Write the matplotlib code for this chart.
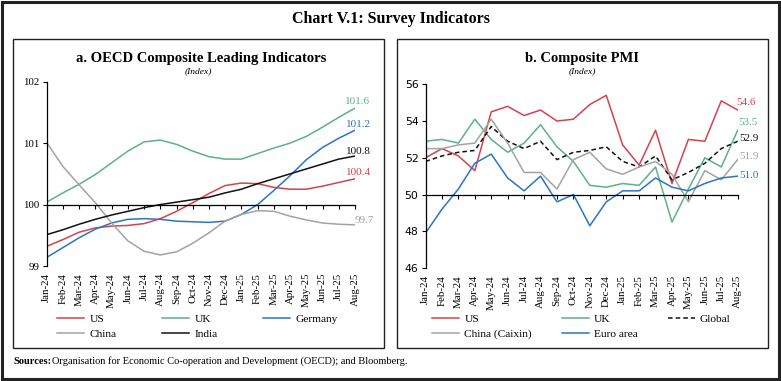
import numpy as np
import matplotlib
matplotlib.use("Agg")
import matplotlib.pyplot as plt
from matplotlib.patches import Rectangle

plt.rcParams['font.family'] = ['Liberation Serif', 'DejaVu Serif']

months = ['Jan-24', 'Feb-24', 'Mar-24', 'Apr-24', 'May-24', 'Jun-24', 'Jul-24', 'Aug-24',
          'Sep-24', 'Oct-24', 'Nov-24', 'Dec-24', 'Jan-25', 'Feb-25', 'Mar-25', 'Apr-25',
          'May-25', 'Jun-25', 'Jul-25', 'Aug-25']

# panel a: OECD CLI (index)
cli_us = [99.32, 99.43, 99.55, 99.62, 99.65, 99.66, 99.69, 99.77, 99.89, 100.03,
          100.18, 100.31, 100.35, 100.34, 100.28, 100.25, 100.25, 100.30, 100.36, 100.42]
cli_uk = [100.04, 100.19, 100.33, 100.49, 100.68, 100.87, 101.02, 101.05, 100.98, 100.87,
          100.78, 100.74, 100.74, 100.83, 100.92, 101.00, 101.11, 101.26, 101.42, 101.57]
cli_germany = [99.14, 99.30, 99.46, 99.60, 99.70, 99.76, 99.77, 99.76, 99.73, 99.72,
               99.71, 99.73, 99.84, 100.00, 100.23, 100.47, 100.73, 100.93, 101.08, 101.21]
cli_china = [101.01, 100.62, 100.32, 100.03, 99.70, 99.41, 99.24, 99.18, 99.23, 99.37,
             99.54, 99.73, 99.84, 99.90, 99.89, 99.81, 99.75, 99.70, 99.68, 99.67]
cli_india = [99.51, 99.59, 99.68, 99.76, 99.83, 99.89, 99.95, 100.00, 100.04, 100.08,
             100.12, 100.19, 100.25, 100.34, 100.42, 100.50, 100.58, 100.66, 100.74, 100.79]

# panel b: composite PMI
pmi_us = [52.0, 52.5, 52.1, 51.3, 54.5, 54.8, 54.3, 54.6, 54.0, 54.1,
          54.9, 55.4, 52.7, 51.6, 53.5, 50.6, 53.0, 52.9, 55.1, 54.6]
pmi_uk = [52.9, 53.0, 52.8, 54.1, 53.0, 52.3, 52.8, 53.8, 52.6, 51.8,
          50.5, 50.4, 50.6, 50.5, 51.5, 48.5, 50.3, 52.0, 51.5, 53.5]
pmi_global = [51.8, 52.1, 52.3, 52.4, 53.7, 52.9, 52.5, 52.9, 51.9, 52.3,
              52.4, 52.6, 51.8, 51.5, 52.1, 50.8, 51.2, 51.7, 52.5, 52.9]
pmi_china = [52.5, 52.5, 52.7, 52.8, 54.1, 52.8, 51.2, 51.2, 50.3, 51.9,
             52.3, 51.4, 51.1, 51.5, 51.8, 51.1, 49.6, 51.3, 50.8, 51.9]
pmi_euro = [47.9, 49.2, 50.3, 51.7, 52.2, 50.9, 50.2, 51.0, 49.6, 50.0,
            48.3, 49.6, 50.2, 50.2, 50.9, 50.4, 50.2, 50.6, 50.9, 51.0]

RED = '#d6424b'
GREEN = '#5bb287'
BLUE = '#2a75c2'
GREY = '#a3a3a3'
BLACK = '#111111'

W, H = 781, 381
fig = plt.figure(figsize=(W / 100, H / 100), dpi=100)


def box(x0, y0, x1, y1):
    # pixel coords (top-left origin) -> figure fraction
    return [x0 / W, 1 - y1 / H, (x1 - x0) / W, (y1 - y0) / H]


# frames
fig.patches.append(Rectangle((2 / W, 2 / H), (W - 4) / W, (H - 4) / H, transform=fig.transFigure,
                             fill=False, lw=2.2, ec='#222222'))
for x0, x1 in [(13, 384), (397, 768)]:
    r = box(x0, 39, x1, 348)
    fig.patches.append(Rectangle((r[0], r[1]), r[2], r[3], transform=fig.transFigure,
                                 fill=False, lw=1.0, ec='#222222'))

fig.text(0.5, 1 - 19 / H, 'Chart V.1: Survey Indicators', ha='center', va='center',
         fontsize=11.5, fontweight='bold')
fig.text(13 / W, 1 - 361 / H, 'Sources:', ha='left', va='center', fontsize=7.5, fontweight='bold')
fig.text(52 / W, 1 - 361 / H, 'Organisation for Economic Co-operation and Development (OECD); and Bloomberg.',
         ha='left', va='center', fontsize=7.5)


def setup(ax, base, yticks, ytick_font):
    x = np.arange(len(months))
    ax.set_xlim(0, len(months) - 1)
    ax.set_ylim(yticks[0], yticks[-1])
    ax.set_yticks(yticks)
    ax.tick_params(axis='y', direction='out', length=3, width=0.8, labelsize=7.8, pad=2)
    for lab in ax.get_yticklabels():
        lab.set_family(ytick_font)
    ax.spines['top'].set_visible(False)
    ax.spines['right'].set_visible(False)
    ax.spines['left'].set_linewidth(0.9)
    ax.spines['bottom'].set_position(('data', base))
    ax.spines['bottom'].set_linewidth(0.9)
    ax.set_xticks(x)
    ax.tick_params(axis='x', direction='out', length=3, width=0.8, labelbottom=False)
    sec = ax.secondary_xaxis(0)
    sec.set_xticks(x, labels=months, rotation=90, fontsize=7.8)
    sec.tick_params(length=0, pad=5)
    sec.spines['bottom'].set_visible(False)
    ax.patch.set_visible(False)


def end_label(ax, series, color, dx, dy):
    ax.annotate(f'{series[-1]:.1f}', (len(series) - 1, series[-1]), xytext=(dx, dy),
                textcoords='offset pixels', ha='center', va='center', fontsize=8, color=color)


def legend_rows(ax, order, x0, spacing):
    h, l = ax.get_legend_handles_labels()
    ax.legend([h[i] for i in order], [l[i] for i in order], ncol=3, loc='upper left',
              bbox_to_anchor=(x0 / W, 1 - 314 / H), bbox_transform=fig.transFigure,
              frameon=False, fontsize=8.2, handlelength=2.4, handletextpad=0.45,
              columnspacing=spacing, labelspacing=0.45, borderaxespad=0, borderpad=0)


x = np.arange(len(months))

# ---- panel a
ax1 = fig.add_axes(box(46.7, 81.7, 355, 266))
setup(ax1, 100, [99, 100, 101, 102], 'Liberation Serif')
ax1.plot(x, cli_us, color=RED, lw=1.1, label='US')
ax1.plot(x, cli_uk, color=GREEN, lw=1.1, label='UK')
ax1.plot(x, cli_germany, color=BLUE, lw=1.1, label='Germany')
ax1.plot(x, cli_china, color=GREY, lw=1.1, label='China')
ax1.plot(x, cli_india, color=BLACK, lw=1.1, label='India')
ax1.set_title('a. OECD Composite Leading Indicators', fontsize=10.5, fontweight='bold', pad=14)
fig.text(198 / W, 1 - 71 / H, '(Index)', ha='center', va='center', fontsize=6.8, style='italic')
end_label(ax1, cli_uk, GREEN, 3, 7)
end_label(ax1, cli_germany, BLUE, 3, 6)
end_label(ax1, cli_india, BLACK, 3, 5)
end_label(ax1, cli_us, RED, 3, 6)
end_label(ax1, cli_china, GREY, 9, 4)
# column-major fill -> rows: US, UK, Germany / China, India
legend_rows(ax1, [0, 3, 1, 4, 2], 57, 4.0)

# ---- panel b
ax2 = fig.add_axes(box(425.5, 84.3, 737.7, 268))
setup(ax2, 50, [46, 48, 50, 52, 54, 56], 'DejaVu Sans')
ax2.plot(x, pmi_us, color=RED, lw=1.1, label='US')
ax2.plot(x, pmi_uk, color=GREEN, lw=1.1, label='UK')
ax2.plot(x, pmi_global, color=BLACK, lw=1.1, ls=(0, (3, 2)), label='Global')
ax2.plot(x, pmi_china, color=GREY, lw=1.1, label='China (Caixin)')
ax2.plot(x, pmi_euro, color=BLUE, lw=1.1, label='Euro area')
ax2.set_title('b. Composite PMI', fontsize=10.5, fontweight='bold', pad=16)
fig.text(582 / W, 1 - 71 / H, '(Index)', ha='center', va='center', fontsize=6.8, style='italic')
end_label(ax2, pmi_us, RED, 8, 8)
end_label(ax2, pmi_uk, GREEN, 10, 8)
end_label(ax2, pmi_global, BLACK, 11, 3)
end_label(ax2, pmi_china, GREY, 11, 3)
end_label(ax2, pmi_euro, BLUE, 11, 1)
# rows: US, UK, Global / China (Caixin), Euro area
legend_rows(ax2, [0, 3, 1, 4, 2], 432, 2.6)

fig.savefig('out.png', dpi=100)
